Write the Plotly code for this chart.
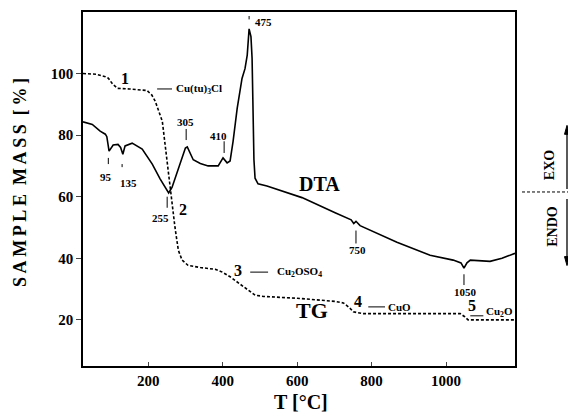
import plotly.graph_objects as go

# ---- data ----
dta_T = [25, 50, 71, 85, 89, 95, 106, 119, 126, 132, 138, 157, 184, 211, 232, 245, 255, 264, 281,
         300, 305, 321, 340, 361, 388, 401, 412, 420, 428, 439, 452, 460, 466, 471, 476, 479, 481,
         484, 487, 495, 519, 554, 595, 613, 702, 745, 752, 758, 769, 868, 957, 1019, 1040, 1048,
         1056, 1065, 1118, 1150, 1185]
dta_v = [84.3, 83.5, 81.3, 80.3, 79.5, 74.8, 76.8, 77.0, 76.0, 73.8, 76.5, 77.4, 75.5, 70.6, 65.8,
         63.0, 61.2, 63.0, 69.4, 75.8, 76.2, 72.0, 70.8, 70.0, 70.0, 72.6, 71.0, 71.6, 78.0, 88.7,
         98.4, 101.6, 106.0, 114.5, 112.0, 105.0, 92.0, 72.0, 66.0, 64.2, 63.5, 62.0, 60.3, 59.7,
         54.8, 52.5, 51.3, 52.0, 50.6, 45.2, 41.0, 39.4, 38.5, 36.8, 38.5, 39.4, 39.0, 40.0, 41.6]

tg_T = [25, 60, 85, 93, 105, 118, 150, 197, 210, 219, 238, 251, 259, 272, 281, 291, 307, 340, 380,
        399, 420, 442, 465, 487, 510, 541, 600, 702, 724, 740, 751, 777, 900, 1038, 1050, 1059,
        1100, 1185]
tg_v = [100, 99.8, 99.0, 98.5, 96.5, 95.2, 95.0, 94.5, 93.0, 91.0, 84.5, 71.6, 62.0, 50.0, 42.6,
        39.4, 37.7, 37.0, 36.4, 35.5, 34.0, 32.0, 30.0, 28.0, 27.6, 27.4, 27.0, 26.0, 25.5, 24.0,
        22.6, 22.0, 22.0, 22.0, 21.0, 20.0, 20.0, 20.0]

x_ticks = [200, 400, 600, 800, 1000]
y_ticks = [20, 40, 60, 80, 100]

# peak labels: text, label x, label y, marker line x, line y0, line y1
peak_labels = [
    ("95", 87, 66.4, 93, 72.6, 70.6),
    ("135", 146, 64.5, 130, 70.6, 69.6),
    ("255", 232, 53.2, 251, 60.0, 56.4),
    ("305", 299, 84.2, 302, 82.0, 78.4),
    ("410", 388, 79.7, 404, 78.0, 74.2),
    ("475", 509, 116.8, 471, 118.7, 117.6),
    ("750", 761, 42.6, 758, 49.0, 44.8),
    ("1050", 1051, 29.0, 1048, 34.8, 31.3),
]

# stage labels: number, x, y
stage_nums = [("1", 138, 98.4), ("2", 294, 55.8), ("3", 442, 36.1), ("4", 764, 25.8), ("5", 1070, 24.5)]
# compound labels: text, line x0, line x1, line y, text x, text y
compounds = [
    ("Cu(tu)<sub>3</sub>Cl", 224, 264, 95.0, 270, 95.0),
    ("Cu<sub>2</sub>OSO<sub>4</sub>", 474, 522, 35.5, 541, 35.5),
    ("CuO", 791, 836, 24.2, 839, 24.2),
    ("Cu<sub>2</sub>O", 1065, 1100, 21.3, 1102, 22.6),
]

SERIF = "Liberation Serif"

fig = go.Figure()
fig.add_trace(go.Scatter(x=dta_T, y=dta_v, mode="lines",
                         line=dict(color="black", width=1.6), showlegend=False))
fig.add_trace(go.Scatter(x=tg_T, y=tg_v, mode="lines",
                         line=dict(color="black", width=1.6, dash="3px,2px"), showlegend=False))

ann = []
shapes = []
for t, lx, ly, mx, y0, y1 in peak_labels:
    ann.append(dict(x=lx, y=ly, text=t, showarrow=False,
                    font=dict(family=SERIF, size=11, color="black", weight="bold")))
    shapes.append(dict(type="line", x0=mx, x1=mx, y0=y0, y1=y1,
                       line=dict(color="black", width=1)))
for t, x, y in stage_nums:
    ann.append(dict(x=x, y=y, text=t, showarrow=False,
                    font=dict(family=SERIF, size=16, color="black", weight="bold")))
for t, x0, x1, ly, tx, ty in compounds:
    shapes.append(dict(type="line", x0=x0, x1=x1, y0=ly, y1=ly,
                       line=dict(color="black", width=1)))
    ann.append(dict(x=tx, y=ty, text=t, showarrow=False, xanchor="left",
                    font=dict(family=SERIF, size=11, color="black", weight="bold")))

ann.append(dict(x=659, y=64.2, text="DTA", showarrow=False,
                font=dict(family=SERIF, size=20, color="black", weight="bold")))
ann.append(dict(x=640, y=22.9, text="TG", showarrow=False,
                font=dict(family=SERIF, size=22, color="black", weight="bold")))

# the page adds an 8px body margin, so figure pixels = reference pixels - 8
OFF = 8
W, H = 576 - OFF, 420 - OFF
L, R, T, B = 83 - OFF, 515 - OFF, 10 - OFF, 366 - OFF
def px(p):
    return (p - OFF - L) / (R - L)
def py(p):
    return (B - (p - OFF)) / (B - T)

def paper_text(x, y, text, size, angle=0):
    ann.append(dict(xref="paper", yref="paper", x=px(x), y=py(y), text=text,
                    xanchor="center", yanchor="middle", textangle=angle, showarrow=False,
                    font=dict(family=SERIF, size=size, color="black", weight="bold")))

paper_text(301, 402, "T [°C]", 20)
paper_text(20, 182, "S\u2009A\u2009M\u2009P\u2009L\u2009E  M\u2009A\u2009S\u2009S  [\u2009%\u2009]", 18, -90)
paper_text(549, 164, "EXO", 14, -90)
paper_text(553, 226, "ENDO", 14, -90)

line_k = dict(color="black", width=1.3)
# EXO arrow (up) and ENDO arrow (down)
shapes.append(dict(type="line", xref="paper", yref="paper", x0=px(567), x1=px(567),
                   y0=py(188), y1=py(132), line=line_k))
shapes.append(dict(type="path", xref="paper", yref="paper",
                   path=f"M {px(564.5)} {py(133)} L {px(569.5)} {py(133)} L {px(567)} {py(124)} Z",
                   fillcolor="black", line=dict(color="black", width=1)))
shapes.append(dict(type="line", xref="paper", yref="paper", x0=px(567), x1=px(567),
                   y0=py(198), y1=py(257), line=line_k))
shapes.append(dict(type="path", xref="paper", yref="paper",
                   path=f"M {px(564.5)} {py(256)} L {px(569.5)} {py(256)} L {px(567)} {py(265)} Z",
                   fillcolor="black", line=dict(color="black", width=1)))
shapes.append(dict(type="line", xref="paper", yref="paper", x0=px(522), x1=px(576),
                   y0=py(191), y1=py(191), line=dict(color="black", width=1, dash="3px,2px")))

fig.update_layout(
    width=W, height=H,
    margin=dict(l=L, r=W - R, t=T, b=H - B),
    paper_bgcolor="white", plot_bgcolor="white",
    annotations=ann, shapes=shapes,
    xaxis=dict(range=[25, 1185], tickvals=x_ticks, ticks="inside", ticklen=4,
               showgrid=False, zeroline=False, showline=True, linecolor="black",
               linewidth=1.5, mirror=True,
               tickfont=dict(family=SERIF, size=15, color="black", weight="bold")),
    yaxis=dict(range=[5, 120], tickvals=y_ticks, ticks="outside", ticklen=5,
               showgrid=False, zeroline=False, showline=True, linecolor="black",
               linewidth=1.5, mirror=True,
               tickfont=dict(family=SERIF, size=15, color="black", weight="bold")),
)

fig.write_html("out.html")
